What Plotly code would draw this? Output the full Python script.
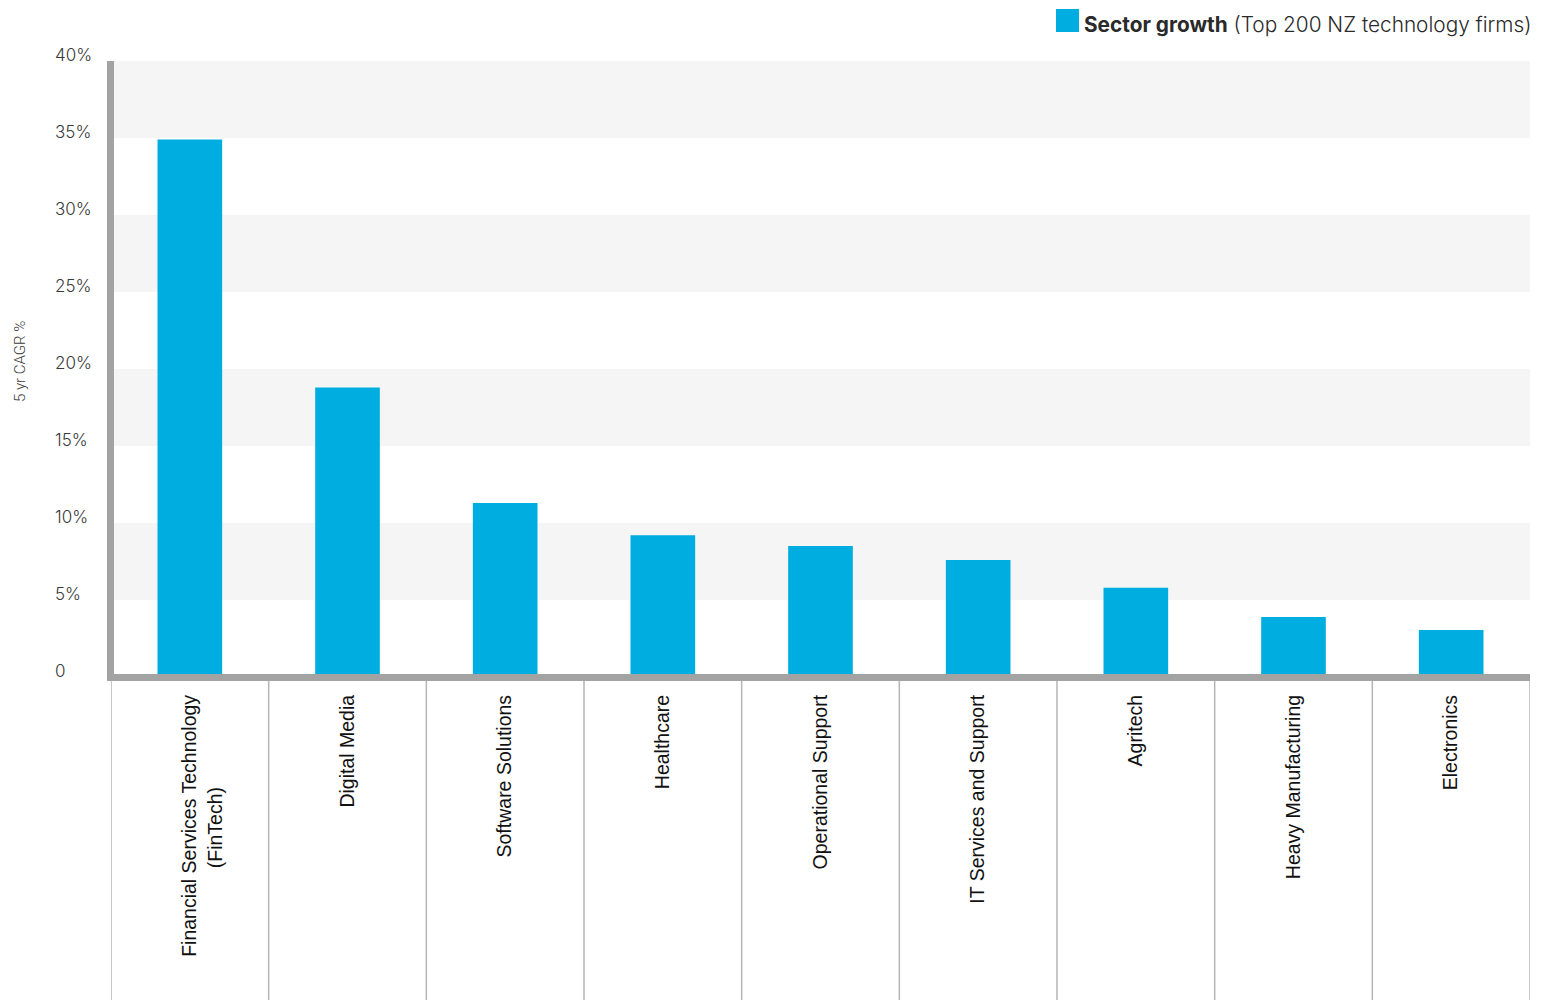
import plotly.graph_objects as go

PAD = "\u00a0" * 17
categories = [
    "\u00a0<br>Financial Services Technology<br>(FinTech)" + PAD,
    "Digital Media",
    "Software Solutions",
    "Healthcare",
    "Operational Support",
    "IT Services and Support",
    "Agritech",
    "Heavy Manufacturing",
    "Electronics",
]
growth = [34.9, 18.8, 11.3, 9.2, 8.5, 7.6, 5.8, 3.9, 3.05]
tick_vals = [0, 5, 10, 15, 20, 25, 30, 35, 40]
tick_text = ["0", "5%", "10%", "15%", "20%", "25%", "30%", "35%", "40%"]

BAR = "#00ADE1"
AXIS = "#A3A3A3"
W, H = 1553, 1000
L, R, T, B = 111, 23, 61, 323
plot_w = W - L - R
plot_h = H - T - B

fig = go.Figure()
fig.add_trace(go.Bar(
    x=list(range(len(categories))), y=growth,
    marker=dict(color=BAR, line=dict(width=0)),
    width=0.41, showlegend=False, hoverinfo="y",
))

shapes = []
# alternating background bands
for lo in range(5, 40, 10):
    shapes.append(dict(type="rect", xref="paper", yref="y", x0=0, x1=1, y0=lo, y1=lo + 5,
                       fillcolor="#F5F5F5", line=dict(width=0), layer="below"))
# category dividers below the axis
for i in range(len(categories) + 1):
    shapes.append(dict(type="line", xref="x", yref="paper", x0=i - 0.5, x1=i - 0.5,
                       y0=-4 / plot_h, y1=-(B + 5) / plot_h,
                       line=dict(color="#B5B5B5", width=1.5)))
# axis lines (thick grey)
shapes.append(dict(type="line", xref="paper", yref="paper",
                   x0=-0.5 / plot_w, x1=-0.5 / plot_w, y0=-4 / plot_h, y1=1,
                   line=dict(color=AXIS, width=7)))
shapes.append(dict(type="line", xref="paper", yref="paper",
                   x0=-4 / plot_w, x1=1, y0=-0.5 / plot_h, y1=-0.5 / plot_h,
                   line=dict(color=AXIS, width=7)))
# legend square
shapes.append(dict(type="rect", xref="paper", yref="paper",
                   x0=(1056 - L) / plot_w, x1=(1079 - L) / plot_w,
                   y0=1 + (T - 32) / plot_h, y1=1 + (T - 9) / plot_h,
                   fillcolor=BAR, line=dict(width=0)))

annotations = []
for v, t in zip(tick_vals, tick_text):
    annotations.append(dict(xref="paper", yref="y", x=-(L - 53) / plot_w, y=v,
                            text=t, showarrow=False, xanchor="left", yanchor="middle",
                            yshift=6,
                            font=dict(family="Inter", size=17, color="#3A3A3A", weight=300)))
annotations.append(dict(xref="paper", yref="paper", x=-(L - 20) / plot_w, y=1 - (362 - T) / plot_h,
                        xanchor="center", yanchor="middle",
                        text="5 yr CAGR %", textangle=-90, showarrow=False,
                        font=dict(family="Roboto", size=15, color="#3A3A3A", weight=300)))
annotations.append(dict(xref="paper", yref="paper", x=(1082 - L) / plot_w, y=1 + (T - 25) / plot_h,
                        text="<b>Sector growth</b> (Top 200 NZ technology firms)",
                        showarrow=False, xanchor="left", yanchor="middle",
                        font=dict(family="Inter", size=20.8, color="#2A2A2A", weight=300)))

fig.update_layout(
    width=W, height=H,
    margin=dict(l=L, r=R, t=T, b=B, pad=0),
    paper_bgcolor="white", plot_bgcolor="white",
    shapes=shapes, annotations=annotations,
    xaxis=dict(
        range=[-0.5, len(categories) - 0.5],
        tickmode="array", tickvals=list(range(len(categories))), ticktext=categories,
        tickangle=-90, ticks="", showgrid=False, zeroline=False, showline=False,
        ticklabelstandoff=13,
        tickfont=dict(family="Liberation Sans", size=19.5, color="#111111"),
    ),
    yaxis=dict(
        range=[0, 40], showticklabels=False, ticks="", showgrid=False, zeroline=False,
        showline=False,
    ),
)

fig.write_html("out.html")
